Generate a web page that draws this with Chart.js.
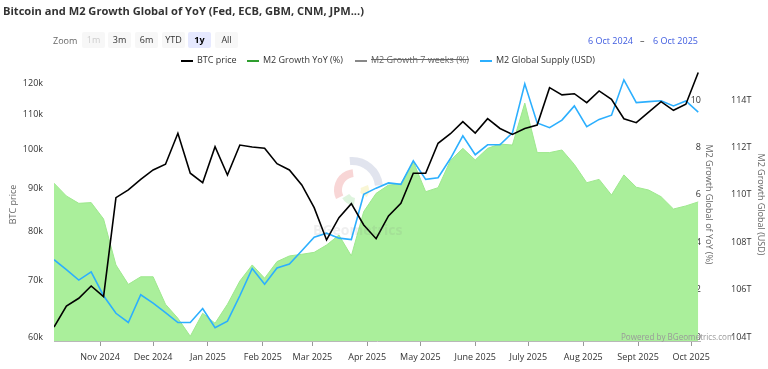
<!DOCTYPE html>
<html>
<head>
<meta charset="utf-8">
<script src="https://cdn.jsdelivr.net/npm/chart.js@4.4.1/dist/chart.umd.min.js"></script>
<style>
  body { margin: 0; background: #fff; font-family: 'Open Sans', sans-serif; }
  #wrap { position: relative; width: 768px; height: 369px; overflow: hidden; }
  #c { position: absolute; left: 0; top: 0; }
  .t { position: absolute; white-space: nowrap; }
  #title { left: 3px; top: 3px; font-size: 11.1px; font-weight: bold; color: #333; }
  .btn { position: absolute; top: 32px; width: 23px; height: 16px; line-height: 16px; text-align: center;
         background: #f7f7f7; border-radius: 2px; font-size: 9px; color: #333; }
  .leg { position: absolute; top: 54px; font-size: 9px; color: #333; line-height: 12px; }
  .sym { position: absolute; top: 60px; width: 12px; height: 2px; }
</style>
</head>
<body>
<div id="wrap">
  <canvas id="c" width="768" height="369"></canvas>
  <div class="t" id="title">Bitcoin and M2 Growth Global of YoY (Fed, ECB, GBM, CNM, JPM...)</div>
  <div class="t" style="left:53px;top:34px;font-size:9px;color:#666">Zoom</div>
  <div class="btn" style="left:82px;color:#ccc">1m</div>
  <div class="btn" style="left:108px">3m</div>
  <div class="btn" style="left:135px">6m</div>
  <div class="btn" style="left:162px">YTD</div>
  <div class="btn" style="left:188px;background:#e6e9ff;font-weight:bold;color:#000">1y</div>
  <div class="btn" style="left:215px">All</div>
  <div class="t" style="left:588px;top:34px;font-size:9px;color:#3f5ce0">6 Oct 2024</div>
  <div class="t" style="left:640px;top:34px;font-size:9px;color:#333">–</div>
  <div class="t" style="left:653px;top:34px;font-size:9px;color:#3f5ce0">6 Oct 2025</div>
  <div id="legend"></div>
  <div class="t" style="left:621px;top:331px;font-size:8.1px;color:#999">Powered by BGeometrics.com</div>
</div>
<script>
// weekly observations
const weekDates = [
  '2024-10-06','2024-10-13','2024-10-20','2024-10-27','2024-11-03','2024-11-10','2024-11-17','2024-11-24',
  '2024-12-01','2024-12-08','2024-12-15','2024-12-22','2024-12-29','2025-01-05','2025-01-12','2025-01-19',
  '2025-01-26','2025-02-02','2025-02-09','2025-02-16','2025-02-23','2025-03-02','2025-03-09','2025-03-16',
  '2025-03-23','2025-03-30','2025-04-06','2025-04-13','2025-04-20','2025-04-27','2025-05-04','2025-05-11',
  '2025-05-18','2025-05-25','2025-06-01','2025-06-08','2025-06-15','2025-06-22','2025-06-29','2025-07-06',
  '2025-07-13','2025-07-20','2025-07-27','2025-08-03','2025-08-10','2025-08-17','2025-08-24','2025-08-31',
  '2025-09-07','2025-09-14','2025-09-21','2025-09-28','2025-10-05'
];
const btcPrice = [
  61660, 65300, 66690, 68960, 66980, 87750, 89620, 92270, 94650, 96130, 104600, 93800, 91420,
  100850, 93360, 101310, 100770, 100410, 96290, 94650, 90850, 85390, 78190, 83090, 86330, 81450,
  78460, 83480, 86420, 93800, 93800, 101780, 104480, 107960, 104680, 108850, 105980, 104300, 105980,
  106990, 118480, 116150, 116530, 113730, 117420, 114790, 108850, 107680, 110850, 114030, 111370, 113220, 123500
];
const m2Yoy = [
  6.49, 5.95, 5.64, 5.67, 4.98, 3.04, 2.22, 2.54, 2.54, 1.38, 0.79, 0.03, 1.00,
  0.58, 1.38, 2.36, 3.04, 2.48, 3.18, 3.42, 3.49, 3.57, 3.88, 4.30, 3.42, 5.29,
  6.06, 6.41, 6.46, 7.40, 6.13, 6.30, 7.45, 7.96, 7.47, 7.96, 8.14, 8.10, 9.87,
  7.78, 7.78, 7.89, 7.28, 6.51, 6.65, 5.99, 6.84, 6.32, 6.20, 5.92, 5.40, 5.53, 5.70
];
const m2Supply = [
  107.26, 106.84, 106.40, 106.75, 105.74, 105.00, 104.61, 105.78, 105.43, 105.03, 104.61, 104.61, 105.20,
  104.39, 104.67, 105.74, 106.89, 106.23, 106.91, 107.08, 107.64, 108.21, 108.38, 108.17, 108.11, 110.02,
  110.28, 110.50, 110.44, 111.43, 110.65, 110.72, 111.53, 112.49, 111.69, 112.11, 112.11, 112.61, 114.68,
  113.03, 112.83, 113.15, 113.75, 112.87, 113.18, 113.36, 114.85, 113.89, 113.93, 113.97, 113.75, 113.96, 113.49
];
const m2Weeks7 = []; // hidden series in the original

const rangeStart = '2024-10-06';
const rangeEnd = '2025-10-06';
const monthTicks = ['2024-11-01','2024-12-01','2025-01-01','2025-02-01','2025-03-01','2025-04-01',
  '2025-05-01','2025-06-01','2025-07-01','2025-08-01','2025-09-01','2025-10-01'];
const monthLabels = ['Nov 2024','Dec 2024','Jan 2025','Feb 2025','Mar 2025','Apr 2025',
  'May 2025','June 2025','July 2025','Aug 2025','Sept 2025','Oct 2025'];
const btcTicks = [60000, 70000, 80000, 90000, 100000, 110000, 120000];
const pctTicks = [0, 2, 4, 6, 8, 10];
const usdTicks = [104, 106, 108, 110, 112, 114];

const seriesNames = ['BTC price', 'M2 Growth YoY (%)', 'M2 Growth 7 weeks (%)', 'M2 Global Supply (USD)'];
const seriesColors = ['#000000', '#2f9e2f', '#888888', '#2caffe'];

function dayNo(s) {
  return (Date.parse(s) - Date.parse(rangeStart)) / 86400000;
}
function pts(values) {
  return values.map((v, i) => ({ x: dayNo(weekDates[i]), y: v }));
}

// html legend (the 7 weeks series is switched off, like in the source)
var legendHtml = '';
var symLeft = [181, 247, 355, 480];
var txtLeft = [197, 263, 371, 496];
seriesNames.forEach(function (name, i) {
  var off = i === 2;
  legendHtml += '<div class="sym" style="left:' + symLeft[i] + 'px;background:' + seriesColors[i] + '"></div>';
  legendHtml += '<div class="leg" style="left:' + txtLeft[i] + 'px;' + (off ? 'text-decoration:line-through;color:#666' : '') + '">' + name + '</div>';
});
document.getElementById('legend').innerHTML = legendHtml;

const watermark = {
  id: 'watermark',
  beforeDatasetsDraw(chart) {
    const ctx = chart.ctx;
    ctx.save();
    ctx.lineWidth = 8;
    ctx.strokeStyle = 'rgba(200,205,224,0.55)';
    ctx.beginPath(); ctx.arc(352, 188, 27, -1.65, -0.1); ctx.stroke();
    ctx.strokeStyle = 'rgba(243,180,180,0.55)';
    ctx.beginPath(); ctx.arc(355, 190, 17, 2.7, 4.6); ctx.stroke();
    ctx.strokeStyle = 'rgba(245,240,185,0.6)';
    ctx.beginPath(); ctx.arc(356, 190, 9, -0.4, 0.6); ctx.stroke();
    ctx.strokeStyle = 'rgba(200,236,200,0.6)';
    ctx.beginPath(); ctx.arc(356, 190, 12, 1.7, 2.6); ctx.stroke();
    ctx.restore();
  },
  afterDatasetsDraw(chart) {
    const ctx = chart.ctx;
    ctx.save();
    ctx.fillStyle = 'rgba(120,120,120,0.12)';
    ctx.font = 'bold 14px "Open Sans"';
    ctx.fillText('BGeometrics', 313, 235);
    ctx.restore();
  }
};

const ctx = document.getElementById('c').getContext('2d');
new Chart(ctx, {
  type: 'line',
  data: {
    datasets: [{
      label: seriesNames[0],
      data: pts(btcPrice),
      yAxisID: 'y',
      borderColor: '#000000',
      borderWidth: 1.6,
      pointRadius: 0,
      order: 0
    }, {
      label: seriesNames[3],
      data: pts(m2Supply),
      yAxisID: 'yUsd',
      borderColor: '#2caffe',
      borderWidth: 1.6,
      pointRadius: 0,
      order: 1
    }, {
      label: seriesNames[1],
      data: pts(m2Yoy),
      yAxisID: 'yPct',
      borderColor: '#9ee88e',
      backgroundColor: '#aaef9b',
      borderWidth: 1,
      fill: 'start',
      pointRadius: 0,
      order: 2
    }, {
      label: seriesNames[2],
      data: pts(m2Weeks7),
      yAxisID: 'yPct',
      hidden: true
    }]
  },
  options: {
    responsive: false,
    devicePixelRatio: 1,
    animation: false,
    layout: { padding: { top: 68, left: 0, right: 0, bottom: 0 } },
    plugins: {
      legend: { display: false },
      tooltip: { enabled: false }
    },
    scales: {
      x: {
        type: 'linear',
        min: 0,
        max: dayNo(rangeEnd),
        afterBuildTicks: function (s) { s.ticks = monthTicks.map(d => ({ value: dayNo(d) })); },
        afterFit: function (s) { s.height = 28; },
        grid: { drawOnChartArea: false, drawTicks: true, tickLength: 5, color: '#999' },
        border: { display: true, color: '#b8b8b8' },
        ticks: {
          autoSkip: false, maxRotation: 0, padding: 6, color: '#333',
          font: { family: 'Open Sans', size: 9 },
          callback: function (v, i) { return monthLabels[i]; }
        }
      },
      y: {
        type: 'logarithmic',
        position: 'left',
        min: 59350,
        max: 125000,
        afterBuildTicks: function (s) { s.ticks = btcTicks.map(v => ({ value: v })); },
        afterFit: function (s) { s.width = 54; },
        grid: { display: false, drawTicks: false },
        border: { display: false },
        ticks: {
          padding: 11, color: '#333', font: { family: 'Open Sans', size: 9 },
          callback: function (v) { return (v / 1000) + 'k'; }
        },
        title: { display: true, text: 'BTC price', color: '#666', padding: { top: 8, bottom: 0 },
                 font: { family: 'Open Sans', size: 9 } }
      },
      yPct: {
        type: 'linear',
        position: 'right',
        weight: 0,
        min: -0.17,
        max: 11.35,
        afterBuildTicks: function (s) { s.ticks = pctTicks.map(v => ({ value: v })); },
        afterFit: function (s) { s.width = 16; },
        grid: { display: false, drawTicks: false },
        border: { display: false },
        ticks: { mirror: true, padding: 1, color: '#333', font: { family: 'Open Sans', size: 9 } },
        title: { display: true, text: 'M2 Growth Global of YoY (%)', color: '#666', padding: { top: 2, bottom: 0 },
                 font: { family: 'Open Sans', size: 9 } }
      },
      yUsd: {
        type: 'linear',
        position: 'right',
        weight: 1,
        min: 103.83,
        max: 115.35,
        afterBuildTicks: function (s) { s.ticks = usdTicks.map(v => ({ value: v })); },
        afterFit: function (s) { s.width = 52; },
        grid: { display: false, drawTicks: false },
        border: { display: false },
        ticks: {
          padding: 15, color: '#333', font: { family: 'Open Sans', size: 9 },
          callback: function (v) { return v + 'T'; }
        },
        title: { display: true, text: 'M2 Growth Global (USD)', color: '#666', padding: { top: 2, bottom: 0 },
                 font: { family: 'Open Sans', size: 9 } }
      }
    }
  },
  plugins: [watermark]
});
</script>
</body>
</html>
